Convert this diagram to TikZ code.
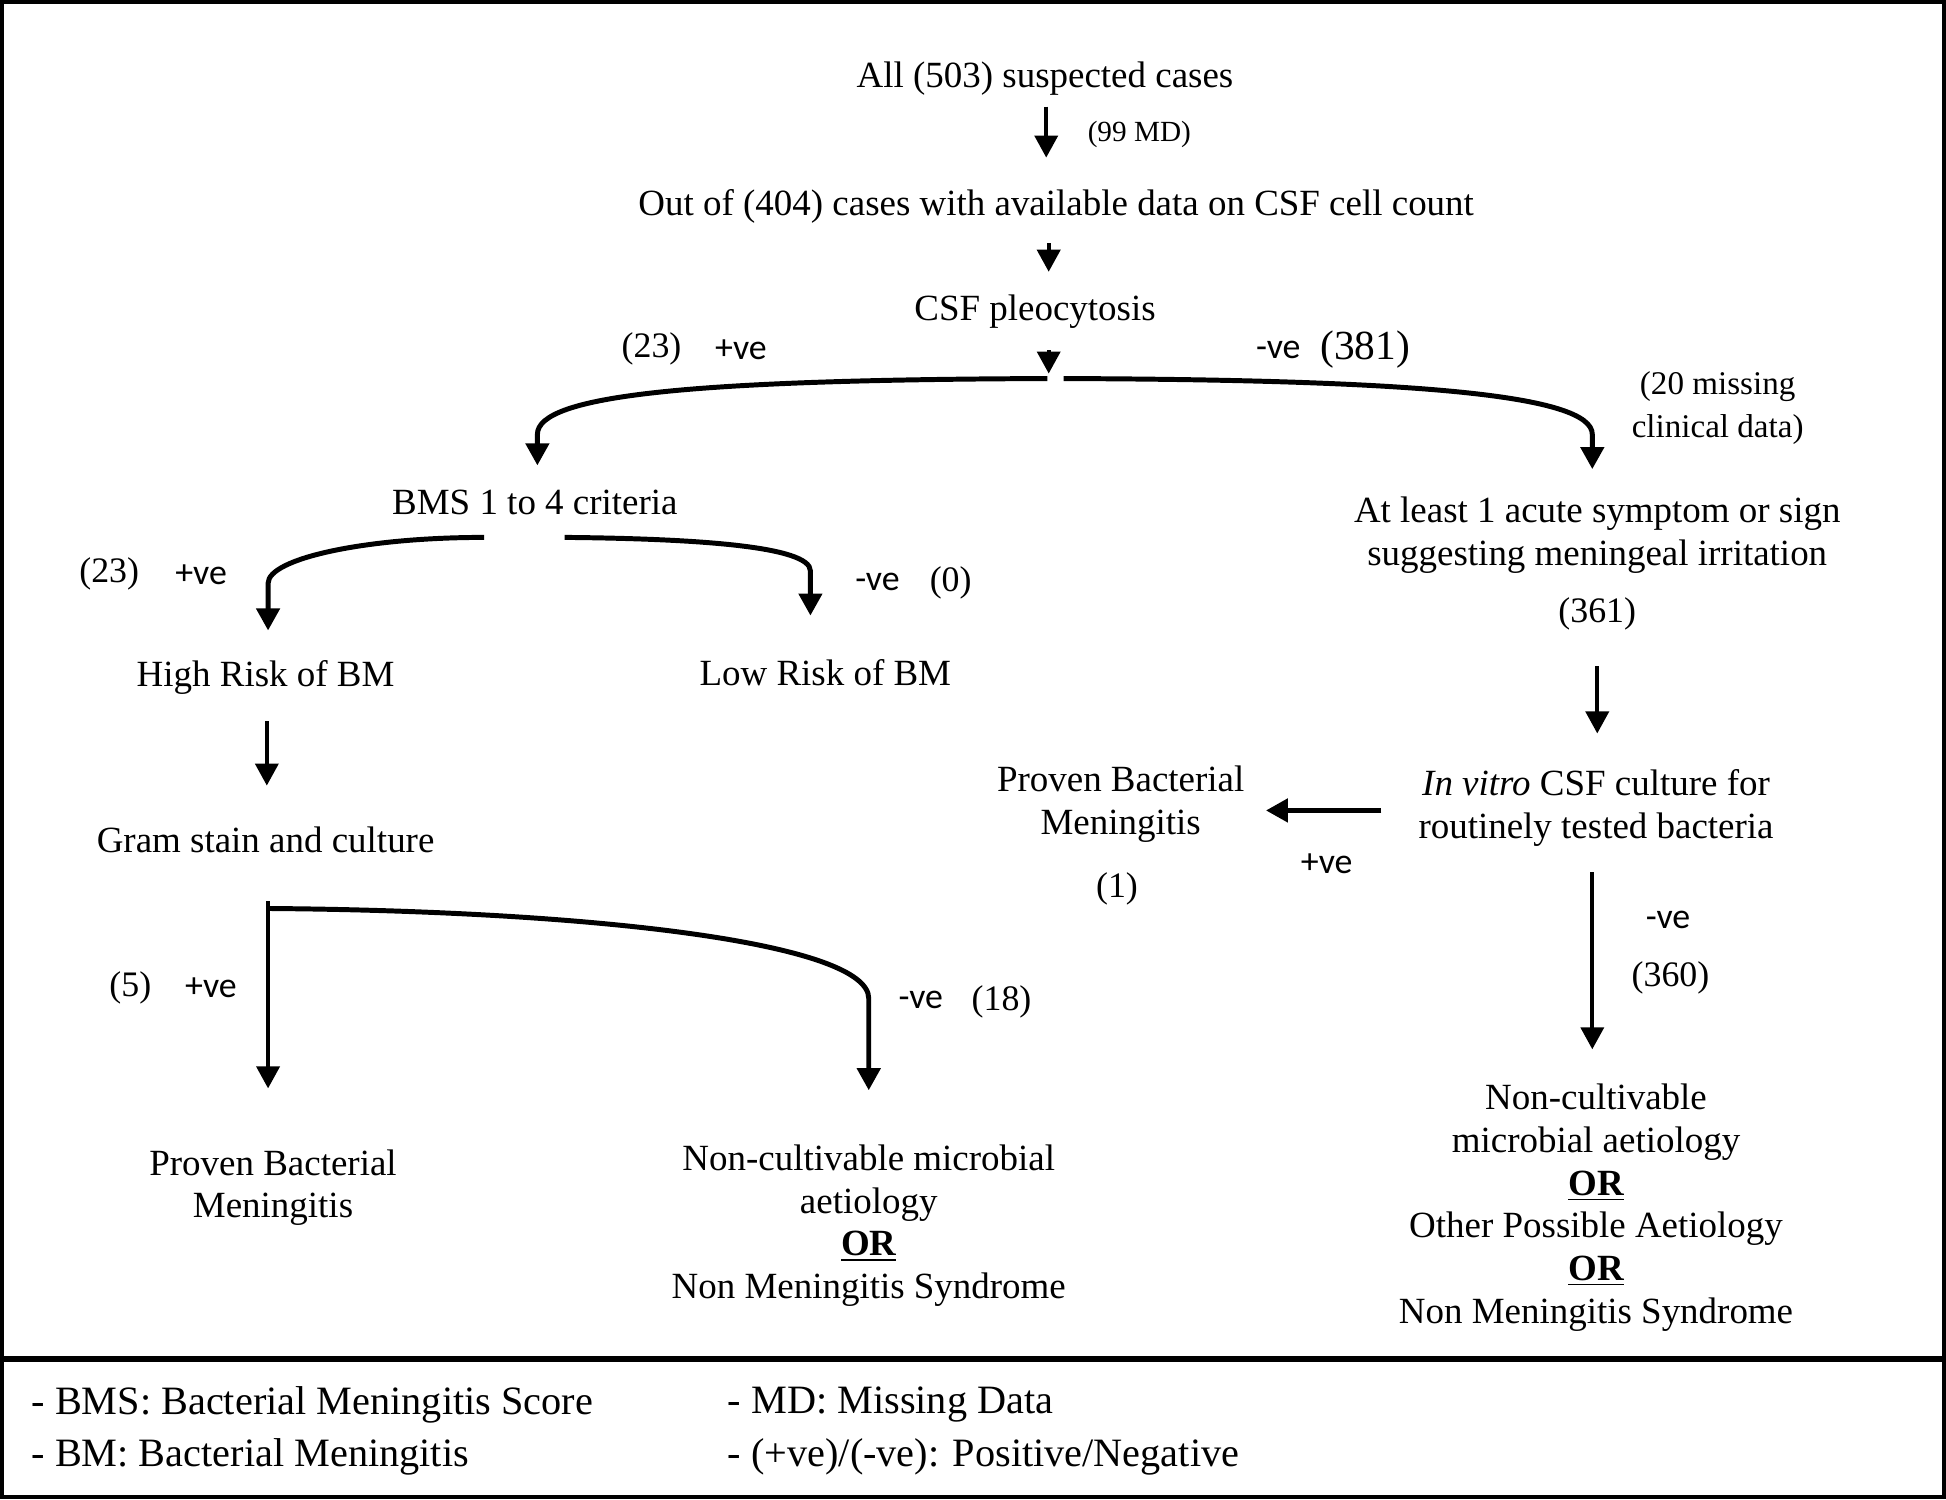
\documentclass[tikz,border=0pt]{standalone}
\usepackage{fontspec}
\setmainfont{Liberation Serif}
\newfontfamily\vefont{Carlito}
\usetikzlibrary{arrows.meta,calc}

\tikzset{
  stepbox/.style={inner sep=0.75pt, align=center, font=\fontsize{13.4}{15.5}\selectfont},
  cnt/.style={inner sep=0.75pt, font=\fontsize{13}{15}\selectfont},
  sgn/.style={inner sep=0.75pt, font=\vefont\fontsize{13}{15}\selectfont},
  key/.style={inner sep=0pt, anchor=west, font=\fontsize{14.6}{17}\selectfont},
  arr/.style={line width=1.5pt, -{Triangle[length=8pt,width=8.3pt]}},
  curvarr/.style={line width=1.8pt, -{Triangle[length=8pt,width=8.3pt]}},
  fatarr/.style={line width=1.9pt, -{Triangle[length=8pt,width=8.3pt]}},
}

\begin{document}
\begin{tikzpicture}[x=0.45pt,y=0.45pt,yscale=-1,xscale=1]
\useasboundingbox (0,0) rectangle (1568,1208);

%Shape: Frame
\draw [line width=1.5pt] (1.7,1.7) rectangle (1566.3,1206.3);
%Straight Lines: legend divider
\draw [line width=1.9pt] (1.7,1095) -- (1566.3,1095);

% Text Node
\node [stepbox] (all) at (842,63) {All (503) suspected cases};
% Text Node
\node [inner sep=0.75pt, font=\fontsize{10.6}{12}\selectfont] (md) at (918,108) {(99 MD)};
% Text Node
\node [stepbox] (outof) at (851,166) {Out of (404) cases with available data on CSF cell count};
% Text Node
\node [stepbox] (pleo) at (834,251) {CSF pleocytosis};
\coordinate (split) at (850,305);
% Text Node
\node [cnt] (n23a) at (525,281) {(23)};
\node [sgn] (pos1) at (597,282) {+ve};
\node [sgn] (neg1) at (1030,282) {-ve};
\node [inner sep=0.75pt, font=\fontsize{15}{17}\selectfont] (n381) at (1100,282) {(381)};
% Text Node
\node [stepbox, font=\fontsize{12}{15.7}\selectfont] (miss) at (1384,329) {(20 missing\\ clinical data)};

% Text Node
\node [stepbox] (bms) at (431,405) {BMS 1 to 4 criteria};
% Text Node
\node [stepbox] (atleast) at (1287,431) {At least 1 acute symptom or sign\\ suggesting meningeal irritation};
\node [cnt] (n361) at (1287,495) {(361)};
% Text Node
\node [cnt] (n23b) at (88,462) {(23)};
\node [sgn] (pos2) at (162,463) {+ve};
\node [sgn] (neg2) at (707,469) {-ve};
\node [cnt] (n0) at (766,470) {(0)};
% Text Node
\node [stepbox] (high) at (214,546) {High Risk of BM};
\node [stepbox] (low) at (665,542) {Low Risk of BM};
% Text Node
\node [stepbox] (gram) at (214,677) {Gram stain and culture};
% Text Node
\node [stepbox] (invitro) at (1286,651) {\textit{In vitro} CSF culture for\\ routinely tested bacteria};
\node [stepbox] (provR) at (903,648) {Proven Bacterial\\ Meningitis};
\node [cnt] (n1) at (900,716) {(1)};
\node [sgn] (pos3) at (1069,696) {+ve};
\node [sgn] (neg3) at (1344,741) {-ve};
\node [cnt] (n360) at (1346,788) {(360)};
% Text Node
\node [cnt] (n5) at (105,796) {(5)};
\node [sgn] (pos4) at (170,796) {+ve};
\node [sgn] (neg4) at (742,806) {-ve};
\node [cnt] (n18) at (807,807) {(18)};
% Text Node
\node [stepbox] (provL) at (220,957) {Proven Bacterial\\ Meningitis};
\node [stepbox] (noncL) at (700,987.5) {Non-cultivable microbial\\ aetiology\\ \textbf{\underline{OR}}\\ Non Meningitis Syndrome};
\node [stepbox] (noncR) at (1286,973) {Non-cultivable\\ microbial aetiology\\ \textbf{\underline{OR}}\\ Other Possible Aetiology\\ \textbf{\underline{OR}}\\ Non Meningitis Syndrome};

% Text Node: legend
\node [key] (k1) at (25,1132) {- BMS: Bacterial Meningitis Score};
\node [key] (k2) at (25,1174) {- BM: Bacterial Meningitis};
\node [key] (k3) at (586,1132) {- MD: Missing Data};
\node [key] (k4) at (586,1174) {- (+ve)/(-ve): Positive/Negative};

%Straight Lines
\draw [arr] ($(all)+(1,23)$) -- ($(outof)+(-8,-39)$);
\draw [arr] ($(outof)+(-6,30)$) -- ($(pleo)+(11,-32)$);
\draw [arr] ($(pleo)+(11,31)$) -- ($(split)+(-5,-4)$);
%Curve Lines
\draw [curvarr] ($(split)+(-6,0)$) .. controls (560,306) and (433,318) .. ($(bms)+(2,-55)$) -- ($(bms)+(2,-30)$);
\draw [curvarr] ($(split)+(7,0)$) .. controls (1140,306) and (1283,318) .. ($(atleast)+(-4,-81)$) -- ($(atleast)+(-4,-53)$);
%Curve Lines
\draw [curvarr] ($(bms)+(-41,28)$) .. controls (294,433) and (216,450) .. ($(high)+(2,-76)$) -- ($(high)+(2,-38)$);
\draw [curvarr] ($(bms)+(24,28)$) .. controls (560,434) and (653,440) .. ($(low)+(-12,-82)$) -- ($(low)+(-12,-46)$);
%Straight Lines
\draw [arr] ($(high)+(1,35)$) -- ($(gram)+(1,-44)$);
\draw [arr] ($(n361)+(0,42)$) -- ($(invitro)+(1,-60)$);
\draw [fatarr] ($(invitro)+(-173,2)$) -- ($(provR)+(117,5)$);
\draw [arr] ($(invitro)+(-3,52)$) -- ($(noncR)+(-3,-127.5)$);
\draw [arr] ($(gram)+(2,49)$) -- ($(provL)+(-4,-80)$);
%Curve Lines
\draw [curvarr] ($(gram)+(2,55)$) .. controls (480,734) and (700,760) .. ($(noncL)+(0,-183)$) -- ($(noncL)+(0,-109)$);

\end{tikzpicture}
\end{document}
